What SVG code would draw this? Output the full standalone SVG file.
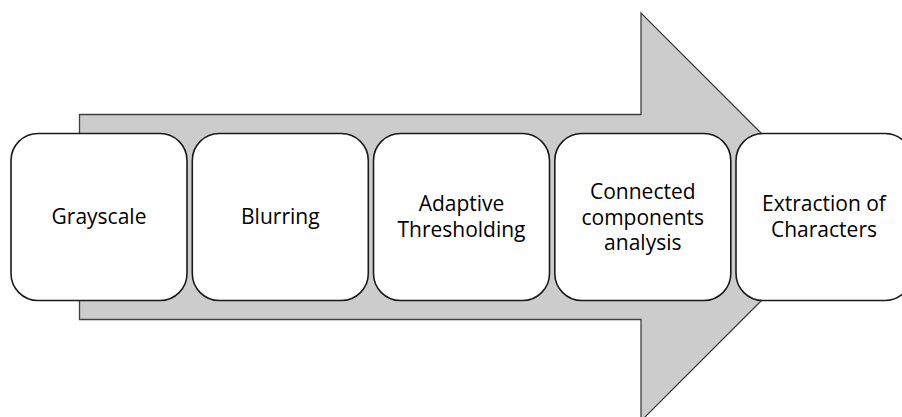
<svg xmlns="http://www.w3.org/2000/svg" width="902" height="417" viewBox="0 0 902 417">
<style>
.arrow{fill:#cccccc;stroke:#404040;stroke-width:1.3;stroke-linejoin:miter}
.box{fill:#ffffff;stroke:#1a1a1a;stroke-width:1.6}
.lbl{font-family:"Open Sans","Liberation Sans",sans-serif;font-size:21px;fill:#000000;text-anchor:middle}
</style>
<rect width="902" height="417" fill="#ffffff"/>
<g id="connectors">
<path class="arrow" d="M79.5,114.5 H641 V13 L845,217 L641,421 V319.5 H79.5 Z"/>
</g>
<g id="node-grayscale">
<rect class="box" x="11" y="133.5" width="176" height="167" rx="27" ry="27"/>
<text class="lbl" x="99" y="224">Grayscale</text>
</g>
<g id="node-blurring">
<rect class="box" x="192.3" y="133.5" width="176" height="167" rx="27" ry="27"/>
<text class="lbl" x="280.3" y="224">Blurring</text>
</g>
<g id="node-adaptive">
<rect class="box" x="373.5" y="133.5" width="176" height="167" rx="27" ry="27"/>
<text class="lbl" x="461.5" y="211">Adaptive</text>
<text class="lbl" x="461.5" y="237">Thresholding</text>
</g>
<g id="node-connected">
<rect class="box" x="554.8" y="133.5" width="176" height="167" rx="27" ry="27"/>
<text class="lbl" x="642.8" y="199">Connected</text>
<text class="lbl" x="642.8" y="224.5">components</text>
<text class="lbl" x="642.8" y="250">analysis</text>
</g>
<g id="node-extraction">
<rect class="box" x="736" y="133.5" width="176" height="167" rx="27" ry="27"/>
<text class="lbl" x="824" y="211">Extraction of</text>
<text class="lbl" x="824" y="237">Characters</text>
</g>
</svg>
